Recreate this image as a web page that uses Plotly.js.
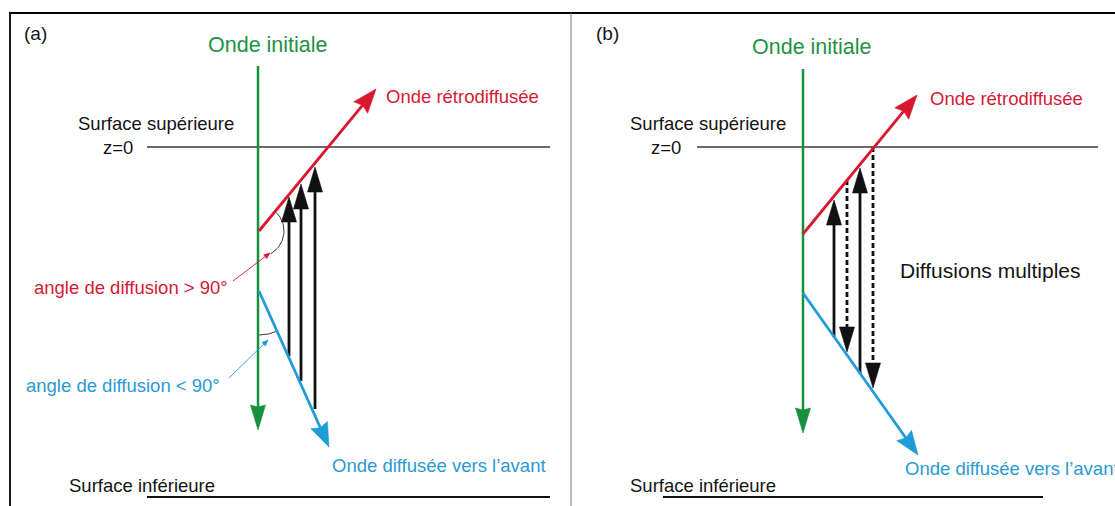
<!DOCTYPE html>
<html>
<head>
<meta charset="utf-8">
<script src="https://cdn.plot.ly/plotly-3.0.1.min.js"></script>
<style>html,body{margin:0;padding:0;background:#fff;}#chart{width:1115px;height:506px;}</style>
</head>
<body>
<div id="chart"></div>
<script>
// ---- diagram geometry (page pixels: x to the right, y downward) ----
// Panel (a)
const initialWaveA = [[258, 66], [258, 430]];
const backWaveA    = [[259, 231], [376, 89]];
const fwdWaveA     = [[259, 291], [329, 447]];
const upArrowsA_x      = [289, 301, 315];
const upArrowsA_bottom = [356, 381, 409];
const upArrowsA_top    = [197, 184, 167];
// Panel (b)
const initialWaveB = [[803, 69], [803, 433]];
const backWaveB    = [[803, 234], [917, 95]];
const fwdWaveB     = [[803, 293], [918, 455]];
const multiB_x      = [834, 847, 860, 873];
const multiB_from   = [337, 180, 373, 147];
const multiB_to     = [200, 352, 168, 388];
const multiB_dashed = [false, true, false, true];
// Surfaces
const surfaceTopY = 147;
const surfaceTopA = [147, 550];
const surfaceTopB = [697, 1098];
const surfaceBotY = 497;
const surfaceBotA = [147, 550];
const surfaceBotB = [663, 1043];
// Angle arcs (center, radius, start/end angle in degrees, screen orientation)
const arcBack = [258, 231, 26, -50, 61];
const arcFwd  = [259, 291, 44, 66, 90];
// Pointer arrows for angle labels: [fromX, fromY, toX, toY]
const pointerBack = [233, 281, 270, 253];
const pointerFwd  = [229, 378, 268, 340];
// Labels: [text, x, y, anchor, size, colorKey]
const labels = [
  ['(a)', 22, 33, 'left', 19, 'k'],
  ['Onde initiale', 268, 45, 'center', 21.5, 'g'],
  ['Surface supérieure', 236, 123, 'right', 18.5, 'k'],
  ['z=0', 135, 147, 'right', 18.5, 'k'],
  ['Onde rétrodiffusée', 384, 96, 'left', 18.5, 'r'],
  ['angle de diffusion > 90°', 230, 287, 'right', 18.5, 'r'],
  ['angle de diffusion < 90°', 222, 385, 'right', 18.5, 'b'],
  ['Onde diffusée vers l’avant', 330, 465, 'left', 18.5, 'b'],
  ['Surface inférieure', 67, 485, 'left', 18.5, 'k'],
  ['(b)', 594, 33, 'left', 19, 'k'],
  ['Onde initiale', 812, 47, 'center', 21.5, 'g'],
  ['Surface supérieure', 788, 123, 'right', 18.5, 'k'],
  ['z=0', 683, 147, 'right', 18.5, 'k'],
  ['Onde rétrodiffusée', 928, 98, 'left', 18.5, 'r'],
  ['Diffusions multiples', 898, 270, 'left', 21, 'k'],
  ['Onde diffusée vers l’avant', 903, 468, 'left', 18.5, 'b'],
  ['Surface inférieure', 628, 485, 'left', 18.5, 'k']
];

const COL = {g: '#17903f', r: '#d9172e', b: '#1f9bd7', k: '#111111'};
const TXT = {g: '#1f9244', r: '#d41a35', b: '#2a9ad3', k: '#141414'};
const FONT = 'Liberation Sans, Arial, Helvetica, sans-serif';

const traces = [];
function line(pts, color, width, dash) {
  traces.push({type: 'scatter', mode: 'lines', x: pts.map(p => p[0]), y: pts.map(p => p[1]),
    line: {color: color, width: width, dash: dash || 'solid'}, hoverinfo: 'skip', showlegend: false});
}
function head(from, tip, color, L, hw, notch) {
  const dx = tip[0] - from[0], dy = tip[1] - from[1];
  const d = Math.hypot(dx, dy), ux = dx / d, uy = dy / d;
  const bx = tip[0] - L * ux, by = tip[1] - L * uy;
  const nx = -uy, ny = ux;
  const pts = [tip, [bx + hw * nx, by + hw * ny], [bx + notch * ux, by + notch * uy], [bx - hw * nx, by - hw * ny], tip];
  traces.push({type: 'scatter', mode: 'lines', x: pts.map(p => p[0]), y: pts.map(p => p[1]),
    fill: 'toself', fillcolor: color, line: {color: color, width: 0.6}, hoverinfo: 'skip', showlegend: false});
  return [bx + (notch + 1) * ux, by + (notch + 1) * uy];
}
function arrow(from, tip, color, width, dash, L, hw, notch) {
  const base = head(from, tip, color, L, hw, notch || 0);
  line([from, base], color, width, dash);
}
function arc(spec, color, width) {
  const [cx, cy, r, a0, a1] = spec;
  const pts = [];
  const n = 30;
  for (let i = 0; i <= n; i++) {
    const a = (a0 + (a1 - a0) * i / n) * Math.PI / 180;
    pts.push([cx + r * Math.cos(a), cy + r * Math.sin(a)]);
  }
  line(pts, color, width);
}

// surfaces
line([[surfaceTopA[0], surfaceTopY], [surfaceTopA[1], surfaceTopY]], '#3a3a3a', 1.5);
line([[surfaceTopB[0], surfaceTopY], [surfaceTopB[1], surfaceTopY]], '#3a3a3a', 1.5);
line([[surfaceBotA[0], surfaceBotY], [surfaceBotA[1], surfaceBotY]], '#111', 2);
line([[surfaceBotB[0], surfaceBotY], [surfaceBotB[1], surfaceBotY]], '#111', 2);

// panel (a) black arrows
for (let i = 0; i < upArrowsA_x.length; i++) {
  arrow([upArrowsA_x[i], upArrowsA_bottom[i]], [upArrowsA_x[i], upArrowsA_top[i]], COL.k, 2.8, 'solid', 25, 7.5, 0);
}
// panel (b) multiple scattering arrows
for (let i = 0; i < multiB_x.length; i++) {
  arrow([multiB_x[i], multiB_from[i]], [multiB_x[i], multiB_to[i]], COL.k, 2.8, multiB_dashed[i] ? '5px,3px' : 'solid', 25, 7.5, 0);
}

// arcs
arc(arcBack, '#222', 0.9);
arc(arcFwd, '#222', 0.9);

// waves
arrow(initialWaveA[0], initialWaveA[1], COL.g, 2.5, 'solid', 25, 7.5, 2);
arrow(backWaveA[0], backWaveA[1], COL.r, 2.8, 'solid', 24, 9, 3);
arrow(fwdWaveA[0], fwdWaveA[1], COL.b, 2.8, 'solid', 24, 9, 3);
arrow(initialWaveB[0], initialWaveB[1], COL.g, 2.5, 'solid', 25, 7.5, 2);
arrow(backWaveB[0], backWaveB[1], COL.r, 2.8, 'solid', 24, 9, 3);
arrow(fwdWaveB[0], fwdWaveB[1], COL.b, 2.8, 'solid', 24, 9, 3);

// pointer arrows
arrow([pointerBack[0], pointerBack[1]], [pointerBack[2], pointerBack[3]], COL.r, 0.9, 'solid', 6, 2.5, 0);
arrow([pointerFwd[0], pointerFwd[1]], [pointerFwd[2], pointerFwd[3]], COL.b, 0.9, 'solid', 6, 2.5, 0);

const annotations = labels.map(l => ({
  text: l[0], x: l[1], y: l[2], xref: 'x', yref: 'y', xanchor: l[3], yanchor: 'middle',
  showarrow: false, font: {family: FONT, size: l[4], color: TXT[l[5]]}
}));

const shapes = [
  {type: 'line', xref: 'x', yref: 'y', x0: 9, x1: 1115, y0: 13, y1: 13, line: {color: '#000', width: 2}},
  {type: 'line', xref: 'x', yref: 'y', x0: 10, x1: 10, y0: 12, y1: 506, line: {color: '#000', width: 1.8}},
  {type: 'line', xref: 'x', yref: 'y', x0: 571, x1: 571, y0: 13, y1: 506, line: {color: '#777', width: 1}}
];

const layout = {
  width: 1115, height: 506,
  margin: {l: 0, r: 0, t: 0, b: 0, pad: 0},
  paper_bgcolor: '#fff', plot_bgcolor: '#fff',
  xaxis: {range: [0, 1115], visible: false, fixedrange: true},
  yaxis: {range: [506, 0], visible: false, fixedrange: true},
  showlegend: false,
  annotations: annotations,
  shapes: shapes
};
Plotly.newPlot('chart', traces, layout, {staticPlot: true, displayModeBar: false});
</script>
</body>
</html>
